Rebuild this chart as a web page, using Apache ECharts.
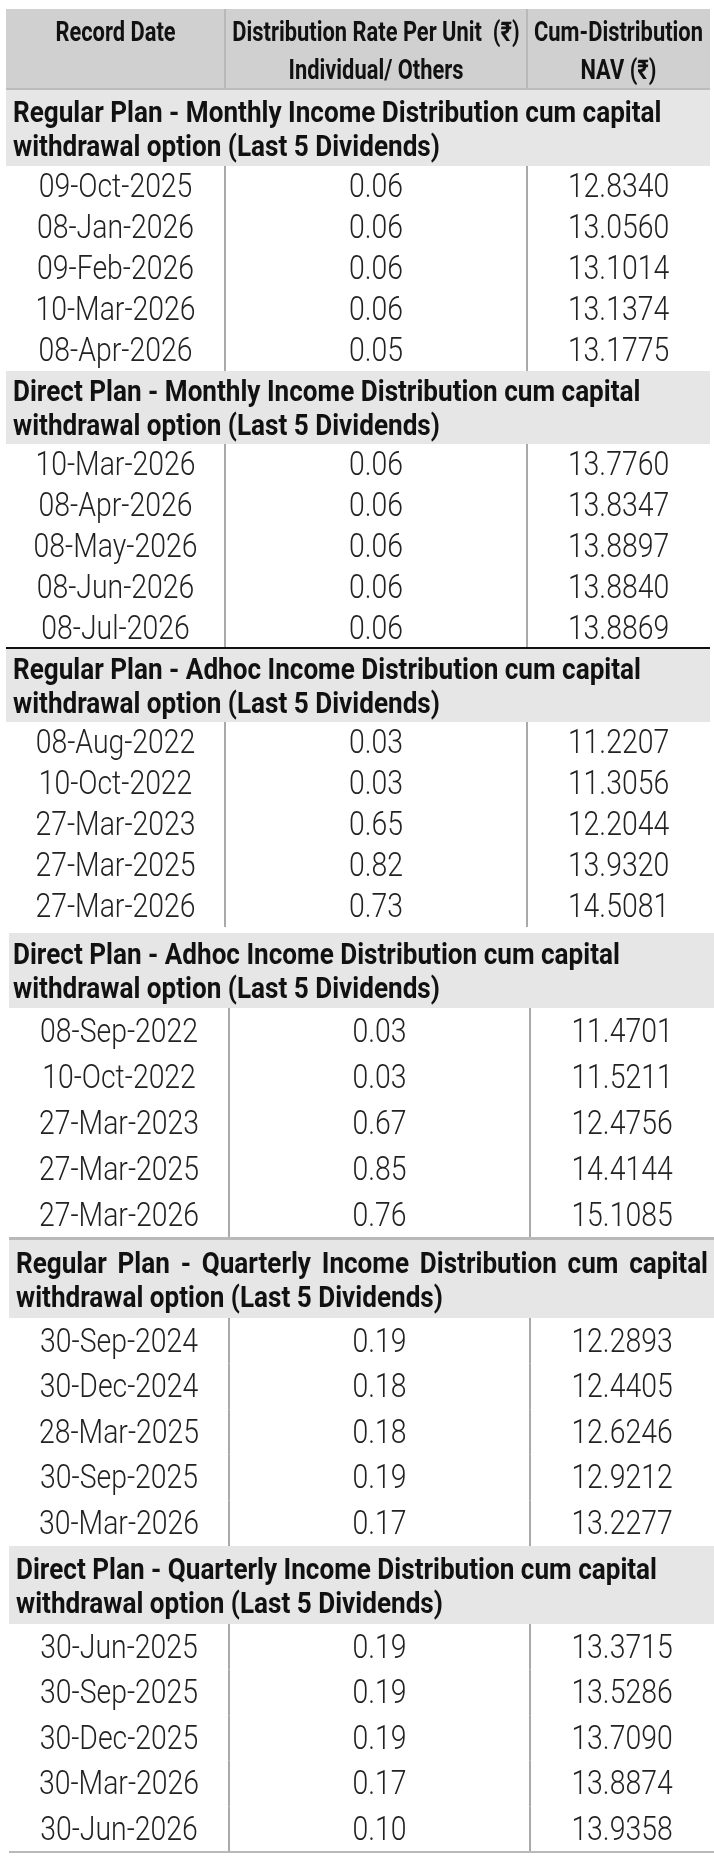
<!DOCTYPE html>
<html>
<head>
<meta charset="utf-8">
<script src="https://cdn.jsdelivr.net/npm/echarts@6/dist/echarts.min.js"></script>
<style>
  html, body { margin: 0; padding: 0; background: #fff; }
  #chart { width: 714px; height: 1859px; }
</style>
</head>
<body>
<div id="chart"></div>
<script>
// column headings
const headerLines = [
  ['Record Date'],
  ['Distribution Rate Per Unit  (\u20B9)', 'Individual/ Others'],
  ['Cum-Distribution', 'NAV (\u20B9)']
];

const sectionTitles = [
  ['Regular Plan - Monthly Income Distribution cum capital', 'withdrawal option (Last 5 Dividends)'],
  ['Direct Plan - Monthly Income Distribution cum capital', 'withdrawal option (Last 5 Dividends)'],
  ['Regular Plan - Adhoc Income Distribution cum capital', 'withdrawal option (Last 5 Dividends)'],
  ['Direct Plan - Adhoc Income Distribution cum capital', 'withdrawal option (Last 5 Dividends)'],
  ['Regular Plan - Quarterly Income Distribution cum capital', 'withdrawal option (Last 5 Dividends)'],
  ['Direct Plan - Quarterly Income Distribution cum capital', 'withdrawal option (Last 5 Dividends)']
];

const regularMonthlyDates = ['09-Oct-2025', '08-Jan-2026', '09-Feb-2026', '10-Mar-2026', '08-Apr-2026'];
const regularMonthlyRates = [0.06, 0.06, 0.06, 0.06, 0.05];
const regularMonthlyNav = [12.8340, 13.0560, 13.1014, 13.1374, 13.1775];

const directMonthlyDates = ['10-Mar-2026', '08-Apr-2026', '08-May-2026', '08-Jun-2026', '08-Jul-2026'];
const directMonthlyRates = [0.06, 0.06, 0.06, 0.06, 0.06];
const directMonthlyNav = [13.7760, 13.8347, 13.8897, 13.8840, 13.8869];

const regularAdhocDates = ['08-Aug-2022', '10-Oct-2022', '27-Mar-2023', '27-Mar-2025', '27-Mar-2026'];
const regularAdhocRates = [0.03, 0.03, 0.65, 0.82, 0.73];
const regularAdhocNav = [11.2207, 11.3056, 12.2044, 13.9320, 14.5081];

const directAdhocDates = ['08-Sep-2022', '10-Oct-2022', '27-Mar-2023', '27-Mar-2025', '27-Mar-2026'];
const directAdhocRates = [0.03, 0.03, 0.67, 0.85, 0.76];
const directAdhocNav = [11.4701, 11.5211, 12.4756, 14.4144, 15.1085];

const regularQuarterlyDates = ['30-Sep-2024', '30-Dec-2024', '28-Mar-2025', '30-Sep-2025', '30-Mar-2026'];
const regularQuarterlyRates = [0.19, 0.18, 0.18, 0.19, 0.17];
const regularQuarterlyNav = [12.2893, 12.4405, 12.6246, 12.9212, 13.2277];

const directQuarterlyDates = ['30-Jun-2025', '30-Sep-2025', '30-Dec-2025', '30-Mar-2026', '30-Jun-2026'];
const directQuarterlyRates = [0.19, 0.19, 0.19, 0.17, 0.10];
const directQuarterlyNav = [13.3715, 13.5286, 13.7090, 13.8874, 13.9358];

const sectionDates = [regularMonthlyDates, directMonthlyDates, regularAdhocDates, directAdhocDates, regularQuarterlyDates, directQuarterlyDates];
const sectionRates = [regularMonthlyRates, directMonthlyRates, regularAdhocRates, directAdhocRates, regularQuarterlyRates, directQuarterlyRates];
const sectionNav = [regularMonthlyNav, directMonthlyNav, regularAdhocNav, directAdhocNav, regularQuarterlyNav, directQuarterlyNav];

// page geometry (pixel units of the hidden axes)
const PAGE_W = 714, PAGE_H = 1859;
const FONT = 'Roboto, "DejaVu Sans", sans-serif';
const headerBox = { top: 9, bottom: 90, cols: [6, 225, 527, 710] };
const sectionLayout = [
  { top: 90,   headH: 76, rowH: 41,   cols: [6, 225, 527, 710], textX: 13 },
  { top: 371,  headH: 73, rowH: 41,   cols: [6, 225, 527, 710], textX: 13 },
  { top: 649,  headH: 73, rowH: 41,   cols: [6, 225, 527, 710], textX: 13, ruleAbove: { y: 648, color: '#111', w: 2 } },
  { top: 933,  headH: 75, rowH: 46,   cols: [9, 229, 530, 714], textX: 13 },
  { top: 1240, headH: 78, rowH: 45.6, cols: [9, 229, 530, 714], textX: 16, ruleAbove: { y: 1238.5, color: '#b9b9b9', w: 3 }, justify: true },
  { top: 1546, headH: 78, rowH: 45.6, cols: [9, 229, 530, 714], textX: 16, ruleBelow: { color: '#b9b9b9', w: 2 } }
];

// type styles; squeeze gives a condensed face, dy nudges Roboto's middle onto the reference line
const headStyle = { size: 27, weight: 'bold', squeeze: 0.81, fill: '#111', dy: 3 };
const sectionStyle = { size: 29, weight: 'bold', squeeze: 0.9, fill: '#111', dy: 3.5 };
const cellStyle = { size: 33, weight: 300, squeeze: 0.86, fill: '#222', dy: 2.5 };

// one item per drawn block
const items = [{ kind: 'header' }];
sectionTitles.forEach((t, s) => {
  items.push({ kind: 'section', s: s });
  sectionDates[s].forEach((d, r) => items.push({ kind: 'row', s: s, r: r }));
});

const measureCtx = document.createElement('canvas').getContext('2d');
function textWidth(str, st) {
  measureCtx.font = st.weight + ' ' + st.size + 'px ' + FONT;
  return measureCtx.measureText(str).width * st.squeeze;
}

function renderItem(params, api) {
  const item = items[params.dataIndex];
  const children = [];
  const pt = (x, y) => api.coord([x, y]);
  const rect = (x0, y0, x1, y1, fill) => {
    const a = pt(x0, y0), b = pt(x1, y1);
    children.push({ type: 'rect', shape: { x: a[0], y: a[1], width: b[0] - a[0], height: b[1] - a[1] }, style: { fill: fill } });
  };
  const line = (x0, y0, x1, y1, stroke, w) => {
    const a = pt(x0, y0), b = pt(x1, y1);
    children.push({ type: 'line', shape: { x1: a[0], y1: a[1], x2: b[0], y2: b[1] }, style: { stroke: stroke, lineWidth: w } });
  };
  const text = (x, y, str, st, align) => {
    const p = pt(x, y + st.dy);
    children.push({
      type: 'text', x: p[0], y: p[1], scaleX: st.squeeze,
      style: {
        text: str, fill: st.fill,
        fontFamily: FONT, fontSize: st.size, fontWeight: st.weight,
        align: align || 'center', verticalAlign: 'middle'
      }
    });
  };

  if (item.kind === 'header') {
    const c = headerBox.cols;
    rect(c[0], headerBox.top, c[3], headerBox.bottom, '#d0d0d0');
    line(c[1], headerBox.top, c[1], headerBox.bottom, '#b8b8b8', 2);
    line(c[2], headerBox.top, c[2], headerBox.bottom, '#b8b8b8', 2);
    line(c[0], headerBox.bottom - 1, c[3], headerBox.bottom - 1, '#bcbcbc', 2);
    headerLines.forEach((lines, i) => {
      const cx = (c[i] + c[i + 1]) / 2;
      lines.forEach((l, k) => text(cx, 31 + k * 38, l, headStyle));
    });
  } else if (item.kind === 'section') {
    const L = sectionLayout[item.s];
    const c = L.cols;
    const bottom = L.top + L.headH;
    rect(c[0], L.top, c[3], bottom, '#e6e6e6');
    if (L.ruleAbove) line(c[0], L.ruleAbove.y, c[3], L.ruleAbove.y, L.ruleAbove.color, L.ruleAbove.w);
    const mid = L.top + L.headH / 2;
    sectionTitles[item.s].forEach((l, k) => {
      const y = mid + (k === 0 ? -17 : 17);
      if (L.justify && k === 0) {
        const words = l.split(' ');
        const widths = words.map(w => textWidth(w, sectionStyle));
        const total = widths.reduce((a, b) => a + b, 0);
        const gap = (c[3] - 6 - L.textX - total) / (words.length - 1);
        let x = L.textX;
        words.forEach((w, i) => {
          text(x, y, w, sectionStyle, 'left');
          x += widths[i] + gap;
        });
      } else {
        text(L.textX, y, l, sectionStyle, 'left');
      }
    });
  } else {
    const L = sectionLayout[item.s];
    const c = L.cols;
    const y0 = L.top + L.headH + item.r * L.rowH;
    const y1 = y0 + L.rowH;
    line(c[1], y0, c[1], y1, '#a9a9a9', 2);
    line(c[2], y0, c[2], y1, '#a9a9a9', 2);
    const cy = (y0 + y1) / 2;
    const cells = [
      sectionDates[item.s][item.r],
      sectionRates[item.s][item.r].toFixed(2),
      sectionNav[item.s][item.r].toFixed(4)
    ];
    cells.forEach((v, i) => text((c[i] + c[i + 1]) / 2, cy, v, cellStyle));
    if (L.ruleBelow && item.r === sectionDates[item.s].length - 1) {
      line(c[0], y1, c[3], y1, L.ruleBelow.color, L.ruleBelow.w);
    }
  }
  return { type: 'group', children: children };
}

const chart = echarts.init(document.getElementById('chart'), null, { renderer: 'canvas' });
chart.setOption({
  animation: false,
  backgroundColor: '#ffffff',
  grid: { left: 0, right: 0, top: 0, bottom: 0 },
  xAxis: { type: 'value', min: 0, max: PAGE_W, show: false },
  yAxis: { type: 'value', min: 0, max: PAGE_H, inverse: true, show: false },
  series: [{
    type: 'custom',
    renderItem: renderItem,
    data: items.map((it, i) => [0, 0, i]),
    encode: { x: 0, y: 1 },
    silent: true,
    clip: false
  }]
});
</script>
</body>
</html>
